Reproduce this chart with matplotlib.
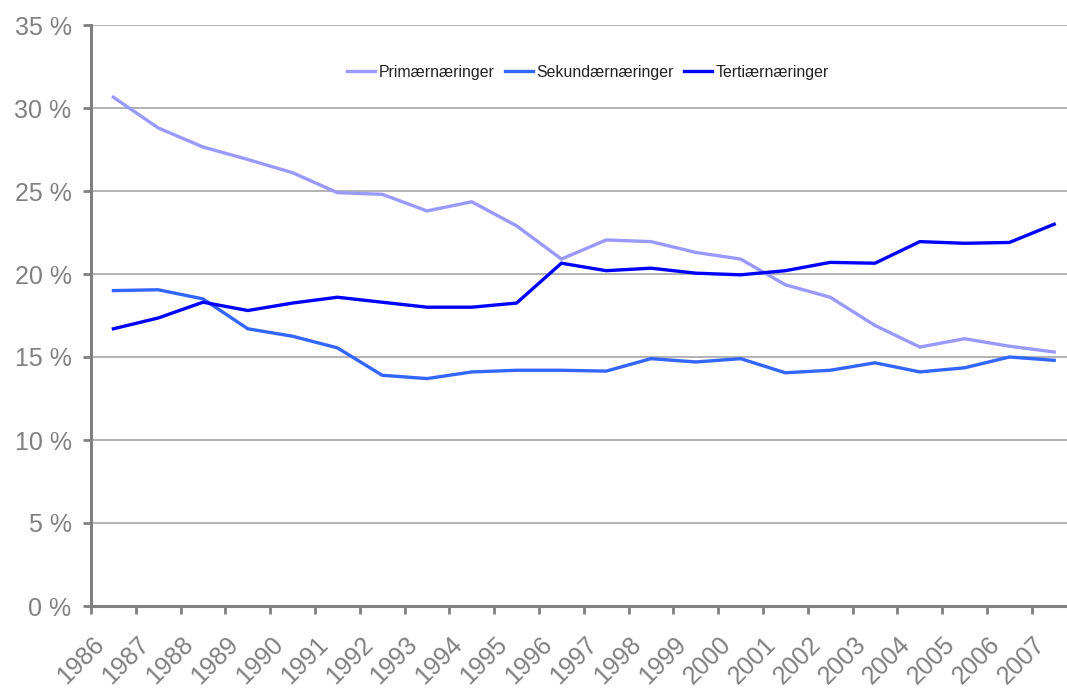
import matplotlib
matplotlib.use("Agg")
import matplotlib.pyplot as plt
from matplotlib.ticker import FixedLocator, FuncFormatter
from matplotlib.transforms import ScaledTranslation

years = [str(y) for y in range(1986, 2008)]
primaer = [30.65, 28.8, 27.65, 26.9, 26.1, 24.9, 24.8, 23.8, 24.35, 22.9, 20.9,
           22.05, 21.95, 21.3, 20.9, 19.35, 18.6, 16.9, 15.6, 16.1, 15.65, 15.3]
sekundaer = [19.0, 19.05, 18.5, 16.7, 16.25, 15.55, 13.9, 13.7, 14.1, 14.2, 14.2,
             14.15, 14.9, 14.7, 14.9, 14.05, 14.2, 14.65, 14.1, 14.35, 15.0, 14.8]
tertiaer = [16.7, 17.35, 18.3, 17.8, 18.25, 18.6, 18.3, 18.0, 18.0, 18.25, 20.65,
            20.2, 20.35, 20.05, 19.95, 20.2, 20.7, 20.65, 21.95, 21.85, 21.9, 23.0]
series_names = ["Primærnæringer", "Sekundærnæringer", "Tertiærnæringer"]
colors = ["#9999FF", "#3366FF", "#0000FF"]
y_ticks = [0, 5, 10, 15, 20, 25, 30, 35]

plt.rcParams['font.family'] = ['Liberation Sans', 'DejaVu Sans']

fig = plt.figure(figsize=(10.67, 6.88), dpi=100)
W, H = 1067, 688
left, right, top, bottom = 91, 1067, 25, 606
ax = fig.add_axes([left / W, 1 - bottom / H, (right - left) / W, (bottom - top) / H])

x = list(range(len(years)))
for vals, name, c in zip([primaer, sekundaer, tertiaer], series_names, colors):
    ax.plot(x, vals, color=c, lw=2.4, label=name, solid_joinstyle='miter')

ax.set_ylim(0, 35)
ax.set_xlim(-0.5, -0.5 + (right - left) / 44.8)

ax.set_yticks(y_ticks)
ax.yaxis.set_major_formatter(FuncFormatter(lambda v, p: f"{int(v)} %"))
ax.grid(axis='y', color='#A6A6A6', lw=1.2)
ax.set_axisbelow(True)

ax.set_xticks(x)
ax.set_xticklabels(years)
ax.xaxis.set_minor_locator(FixedLocator([i - 0.5 for i in range(len(years))]))

for s in ['top', 'right']:
    ax.spines[s].set_visible(False)
for s in ['left', 'bottom']:
    ax.spines[s].set_color('#808080')
    ax.spines[s].set_linewidth(2.2)

ax.tick_params(axis='y', which='major', length=6, width=2, color='#808080',
               labelsize=18, labelcolor='#808080', pad=8)
ax.tick_params(axis='x', which='major', length=0, labelsize=18,
               labelcolor='#808080', pad=25)
ax.tick_params(axis='x', which='minor', length=6, width=2, color='#808080')

offset = ScaledTranslation(-13 / 100, 0, fig.dpi_scale_trans)
for lab in ax.get_xticklabels():
    lab.set_rotation(45)
    lab.set_ha('right')
    lab.set_va('center')
    lab.set_rotation_mode('anchor')
    lab.set_transform(lab.get_transform() + offset)

leg = ax.legend(loc='center', bbox_to_anchor=(0.509, 0.919), ncol=3, frameon=False,
                fontsize=11.4, handlelength=1.8, handletextpad=0.2, columnspacing=0.65)
for t in leg.get_texts():
    t.set_color('#222222')

fig.savefig("out.png", dpi=100)
